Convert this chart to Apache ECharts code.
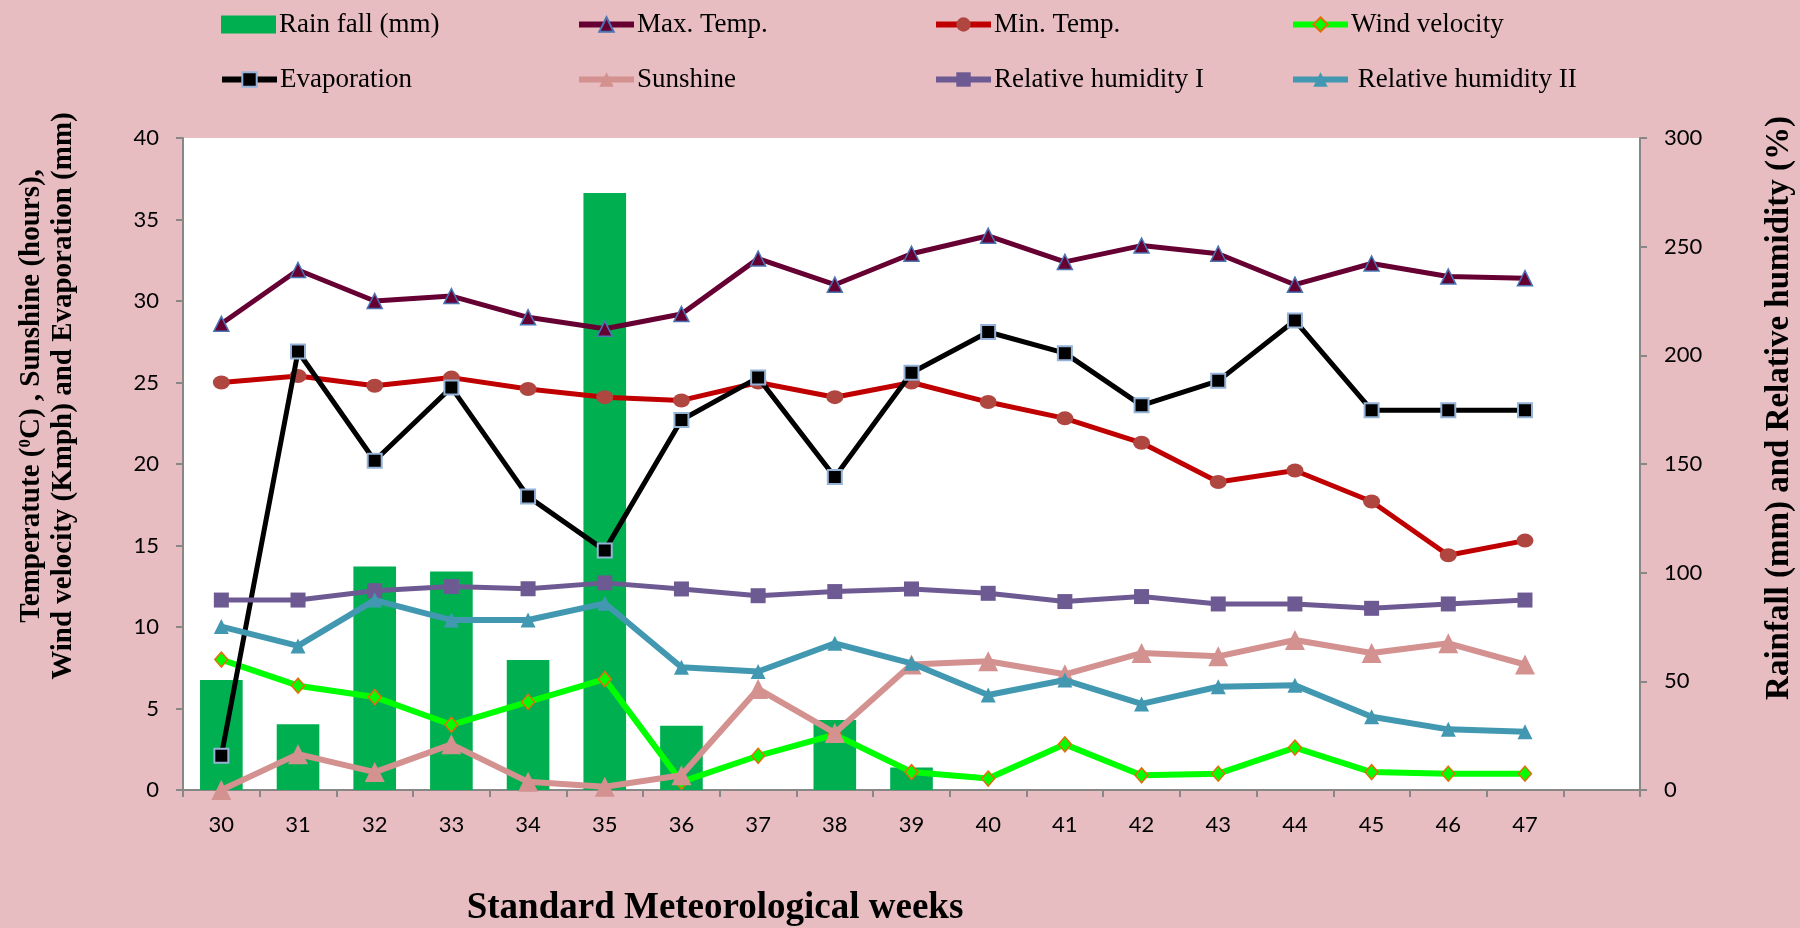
<!DOCTYPE html>
<html>
<head>
<meta charset="utf-8">
<script src="https://cdn.jsdelivr.net/npm/echarts@6/dist/echarts.min.js"></script>
<style>
  html, body { margin: 0; padding: 0; background: #e7bdc1; }
  #chart { width: 1800px; height: 928px; }
</style>
</head>
<body>
<div id="chart"></div>
<script>
// Standard meteorological weeks (last slot left empty as spacing)
const weeks = ['30','31','32','33','34','35','36','37','38','39','40','41','42','43','44','45','46','47',''];

// Right axis: rainfall (mm) and relative humidity (%)
const rainfall = [50.6, 30.2, 102.8, 100.5, 59.8, 274.7, 29.6, 0, 32.2, 10.3, 0, 0, 0, 0, 0, 0, 0, 0];
const relHumidity1 = [87.4, 87.4, 91.7, 93.6, 92.6, 95.3, 92.5, 89.4, 91.3, 92.5, 90.5, 86.7, 89.0, 85.6, 85.6, 83.6, 85.6, 87.4];
const relHumidity2 = [75.2, 66.3, 87.4, 78.2, 78.2, 85.9, 56.5, 54.5, 67.5, 58.3, 43.7, 50.6, 39.6, 47.5, 48.2, 33.7, 27.9, 26.8];

// Left axis: temperature, sunshine, wind velocity, evaporation
const maxTemp = [28.6, 31.9, 30.0, 30.3, 29.0, 28.3, 29.2, 32.6, 31.0, 32.9, 34.0, 32.4, 33.4, 32.9, 31.0, 32.3, 31.5, 31.4];
const minTemp = [25.0, 25.4, 24.8, 25.3, 24.6, 24.1, 23.9, 25.0, 24.1, 25.0, 23.8, 22.8, 21.3, 18.9, 19.6, 17.7, 14.4, 15.3];
const windVelocity = [8.0, 6.4, 5.7, 4.0, 5.4, 6.8, 0.5, 2.1, 3.4, 1.1, 0.7, 2.8, 0.9, 1.0, 2.6, 1.1, 1.0, 1.0];
const evaporation = [2.1, 26.9, 20.2, 24.7, 18.0, 14.7, 22.7, 25.3, 19.2, 25.6, 28.1, 26.8, 23.6, 25.1, 28.8, 23.3, 23.3, 23.3];
const sunshine = [0.0, 2.2, 1.1, 2.8, 0.5, 0.2, 0.9, 6.2, 3.5, 7.7, 7.9, 7.1, 8.4, 8.2, 9.2, 8.4, 9.0, 7.7];

// Axis tick settings
const leftTicks = { min: 0, max: 40, interval: 5 };
const rightTicks = { min: 0, max: 300, interval: 50 };

const SERIF = "'Liberation Serif', 'Times New Roman', serif";
const SANS = "Lato, 'Liberation Sans', sans-serif";
const AXIS_GRAY = '#878787';

const chart = echarts.init(document.getElementById('chart'), null, { renderer: 'canvas' });

function lineSeries(name, data, opts) {
  return {
    name: name,
    type: 'line',
    yAxisIndex: opts.yAxisIndex || 0,
    data: data,
    symbol: opts.symbol,
    symbolSize: opts.symbolSize,
    showAllSymbol: true,
    z: opts.z,
    lineStyle: { color: opts.line, width: opts.width },
    itemStyle: {
      color: opts.fill,
      borderColor: opts.border || opts.fill,
      borderWidth: opts.borderWidth || 0
    },
    emphasis: { disabled: true },
    animation: false
  };
}

function legendAt(name, left, top, icon) {
  const item = icon ? { name: name, icon: icon } : name;
  return {
    data: [item],
    left: left,
    top: top,
    padding: 0,
    itemWidth: 55,
    itemHeight: 18,
    itemGap: 0,
    selectedMode: false,
    lineStyle: { width: 6 },
    textStyle: { fontFamily: SERIF, fontSize: 27, color: '#000', padding: [0, 0, 0, -2] }
  };
}

const option = {
  backgroundColor: '#e7bdc1',
  animation: false,
  legend: [
    legendAt('Rain fall (mm)', 221, 11, 'rect'),
    legendAt('Max. Temp.', 576, 11),
    legendAt('Min. Temp.', 933, 11),
    legendAt('Wind velocity', 1290, 11),
    legendAt('Evaporation', 219, 66),
    legendAt('Sunshine', 576, 66),
    legendAt('Relative humidity I', 933, 66),
    legendAt(' Relative humidity II', 1290, 66)
  ],
  grid: {
    left: 183, right: 160, top: 138, bottom: 138,
    show: true, backgroundColor: '#ffffff', borderWidth: 0
  },
  xAxis: {
    type: 'category',
    data: weeks,
    boundaryGap: true,
    axisLine: { lineStyle: { color: AXIS_GRAY, width: 2 } },
    axisTick: { show: true, interval: 0, length: 7, lineStyle: { color: AXIS_GRAY, width: 2 } },
    axisLabel: { interval: 0, margin: 24, fontFamily: SANS, fontSize: 22, color: '#000' },
    splitLine: { show: false }
  },
  yAxis: [
    {
      type: 'value',
      position: 'left',
      min: leftTicks.min, max: leftTicks.max, interval: leftTicks.interval,
      axisLine: { show: true, lineStyle: { color: AXIS_GRAY, width: 2 } },
      axisTick: { show: true, length: 7, lineStyle: { color: AXIS_GRAY, width: 2 } },
      axisLabel: { margin: 24, fontFamily: SANS, fontSize: 22, color: '#000' },
      splitLine: { show: false }
    },
    {
      type: 'value',
      position: 'right',
      min: rightTicks.min, max: rightTicks.max, interval: rightTicks.interval,
      axisLine: { show: true, lineStyle: { color: AXIS_GRAY, width: 2 } },
      axisTick: { show: true, length: 7, lineStyle: { color: AXIS_GRAY, width: 2 } },
      axisLabel: { margin: 24, fontFamily: SANS, fontSize: 22, color: '#000' },
      splitLine: { show: false }
    }
  ],
  series: [
    {
      name: 'Rain fall (mm)',
      type: 'bar',
      yAxisIndex: 1,
      data: rainfall,
      barWidth: '55.6%',
      itemStyle: { color: '#00b050' },
      emphasis: { disabled: true },
      z: 1
    },
    lineSeries('Max. Temp.', maxTemp, { line: '#660033', width: 5, symbol: 'triangle', symbolSize: 15, fill: '#660033', border: '#4a74b4', borderWidth: 1.5, z: 3 }),
    lineSeries('Min. Temp.', minTemp, { line: '#c00000', width: 5, symbol: 'circle', symbolSize: [17, 14], fill: '#b04640', z: 4 }),
    lineSeries('Wind velocity', windVelocity, { line: '#00ff00', width: 6, symbol: 'diamond', symbolSize: [13, 15], fill: '#00ff00', border: '#e46c0a', borderWidth: 1.5, z: 5 }),
    lineSeries('Evaporation', evaporation, { line: '#000000', width: 5, symbol: 'rect', symbolSize: 14, fill: '#000000', border: '#95b3d7', borderWidth: 2, z: 6 }),
    lineSeries('Sunshine', sunshine, { line: '#d39190', width: 6, symbol: 'triangle', symbolSize: 20, fill: '#d39190', z: 7 }),
    lineSeries('Relative humidity I', relHumidity1, { yAxisIndex: 1, line: '#6e5a92', width: 5, symbol: 'rect', symbolSize: 15, fill: '#6e5a92', z: 8 }),
    lineSeries(' Relative humidity II', relHumidity2, { yAxisIndex: 1, line: '#4298b1', width: 6, symbol: 'triangle', symbolSize: 15, fill: '#4298b1', z: 9 })
  ],
  graphic: [
    {
      type: 'text',
      x: 32, y: 396,
      rotation: Math.PI / 2,
      style: {
        text: 'Temperatute ({sup|0}C) , Sunshine (hours),',
        rich: { sup: { fontSize: 17, fontWeight: 'bold', fontFamily: SERIF, verticalAlign: 'top', fill: '#000' } },
        fontFamily: SERIF, fontWeight: 'bold', fontSize: 29, fill: '#000',
        align: 'center', verticalAlign: 'middle'
      }
    },
    {
      type: 'text',
      x: 64, y: 396,
      rotation: Math.PI / 2,
      style: {
        text: 'Wind velocity (Kmph) and Evaporation (mm)',
        fontFamily: SERIF, fontWeight: 'bold', fontSize: 29, fill: '#000',
        align: 'center', verticalAlign: 'middle'
      }
    },
    {
      type: 'text',
      x: 1779, y: 408,
      rotation: Math.PI / 2,
      style: {
        text: 'Rainfall (mm) and Relative humidity (%)',
        fontFamily: SERIF, fontWeight: 'bold', fontSize: 33, fill: '#000',
        align: 'center', verticalAlign: 'middle'
      }
    },
    {
      type: 'text',
      x: 715, y: 908,
      style: {
        text: 'Standard Meteorological weeks',
        fontFamily: SERIF, fontWeight: 'bold', fontSize: 37, fill: '#000',
        align: 'center', verticalAlign: 'middle'
      }
    }
  ]
};

chart.setOption(option);
</script>
</body>
</html>
